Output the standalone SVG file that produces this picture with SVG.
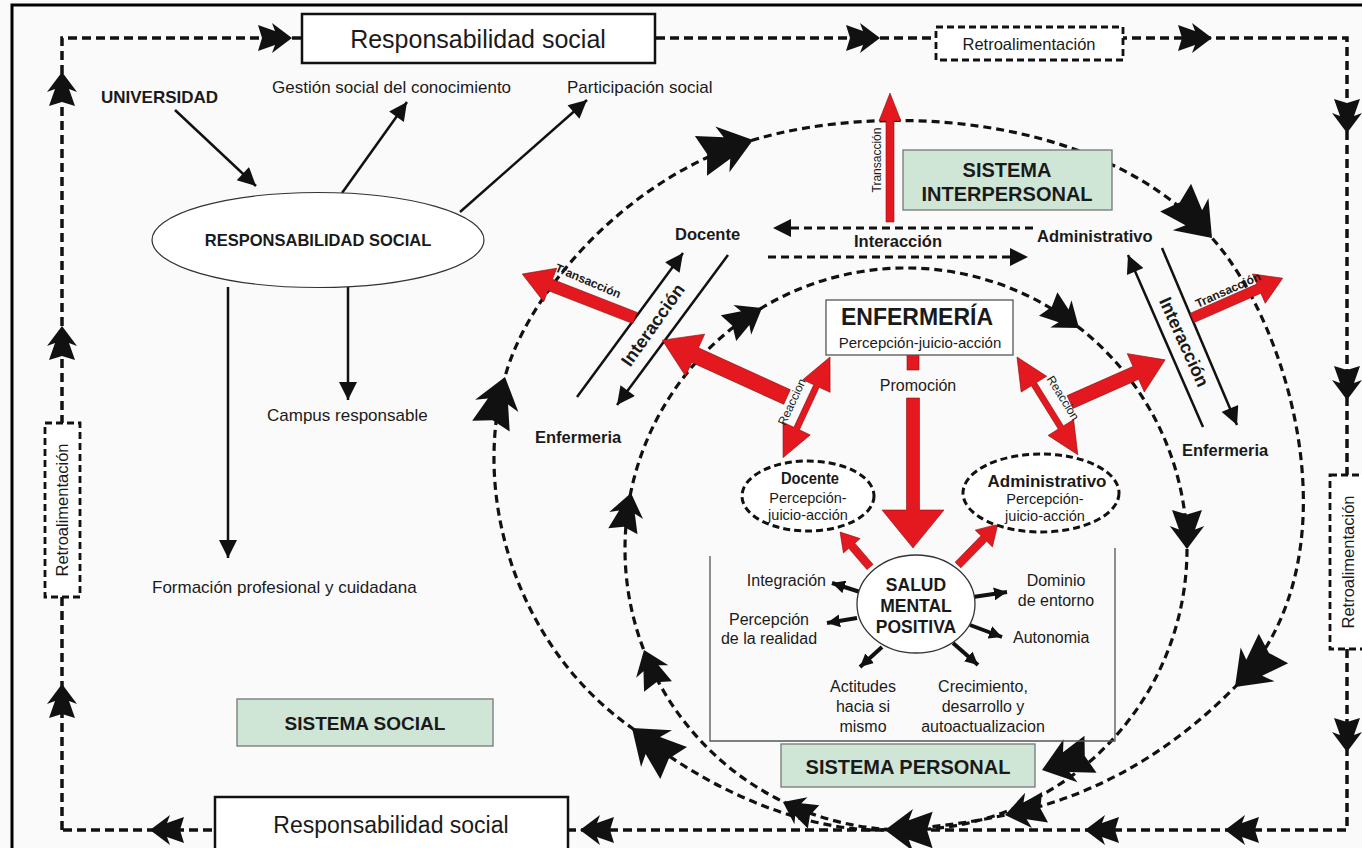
<svg xmlns="http://www.w3.org/2000/svg" width="1362" height="848" viewBox="0 0 1362 848">
<style>
text{font-family:"Liberation Sans",Arial,sans-serif;fill:#1a1a1a}
.b{font-weight:bold}
.m{text-anchor:middle}
.loop{fill:none;stroke:#111;stroke-width:3.5;stroke-dasharray:9 5}
.cv{fill:none;stroke:#111;stroke-width:3.2;stroke-dasharray:8 5}
.ln{fill:none;stroke:#111;stroke-width:2.5}
.sa{fill:none;stroke:#111;stroke-width:4}
.red{fill:#e3191f;stroke:#8a1010;stroke-width:0.6}
.green{fill:#cfe6d7;stroke:#777;stroke-width:1.3}
.wbox{fill:#fff;stroke:#111;stroke-width:2.5}
.dbox{fill:#fff;stroke:#111;stroke-width:2.8;stroke-dasharray:7 4}
</style>
<defs>
<path id="fa" d="M0,0 L-20,-15 L-17,-7 L-34,-13 L-30,0 L-34,13 L-17,7 L-20,15 Z" fill="#111"/>
<marker id="ah" viewBox="0 0 10 10" refX="10" refY="5" markerWidth="20" markerHeight="18" markerUnits="userSpaceOnUse" orient="auto"><path d="M0,0 L10,5 L0,10 Z" fill="#111"/></marker>
<marker id="ahs" viewBox="0 0 10 10" refX="10" refY="5" markerWidth="13" markerHeight="13" markerUnits="userSpaceOnUse" orient="auto"><path d="M0,0 L10,5 L0,10 Z" fill="#111"/></marker>
</defs>
<rect x="0" y="0" width="1362" height="848" fill="#fafafa"/>
<path d="M12,850 V5 H1364" fill="none" stroke="#000" stroke-width="3"/>

<g id="connectors">
<path class="loop" d="M62,830 V38 H1347 V830 Z"/>
<use href="#fa" transform="translate(292,38)"/>
<use href="#fa" transform="translate(880,38)"/>
<use href="#fa" transform="translate(1212,38)"/>
<use href="#fa" transform="translate(1347,133) rotate(90)"/>
<use href="#fa" transform="translate(1347,400) rotate(90)"/>
<use href="#fa" transform="translate(1347,752) rotate(90)"/>
<use href="#fa" transform="translate(150,830) rotate(180)"/>
<use href="#fa" transform="translate(580,830) rotate(180)"/>
<use href="#fa" transform="translate(1085,830) rotate(180)"/>
<use href="#fa" transform="translate(1225,830) rotate(180)"/>
<use href="#fa" transform="translate(62,72) rotate(-90)"/>
<use href="#fa" transform="translate(62,326) rotate(-90)"/>
<use href="#fa" transform="translate(62,684) rotate(-90)"/>

<path class="cv" d="M870,830 C790,826 700,785 632,728 C520,650 470,500 505,377 C525,300 620,180 753,140 C880,102 1100,112 1212,238 C1290,325 1360,560 1235,687 C1160,763 1080,800 1005,815 C960,825 910,830 870,830"/>
<use href="#fa" transform="translate(632,728) rotate(-140) scale(1.6)"/>
<use href="#fa" transform="translate(505,377) rotate(-74) scale(1.5)"/>
<use href="#fa" transform="translate(753,140) rotate(-17) scale(1.6)"/>
<use href="#fa" transform="translate(1212,238) rotate(48) scale(1.6)"/>
<use href="#fa" transform="translate(1235,687) rotate(135) scale(1.6)"/>
<use href="#fa" transform="translate(1005,815) rotate(169) scale(1.2)"/>
<use href="#fa" transform="translate(885,830) rotate(180) scale(1.4)"/>

<circle class="cv" cx="906" cy="549" r="281"/>
<use href="#fa" transform="translate(631,493) rotate(-78) scale(1.15)"/>
<use href="#fa" transform="translate(644,650) rotate(-111) scale(1.15)"/>
<use href="#fa" transform="translate(762,308) rotate(-31) scale(1.15)"/>
<use href="#fa" transform="translate(1079,328) rotate(38) scale(1.15)"/>
<use href="#fa" transform="translate(1187,549) rotate(90) scale(1.15)"/>
<use href="#fa" transform="translate(1042,770) rotate(162) scale(1.5)"/>
<use href="#fa" transform="translate(783,802) rotate(-154) scale(1)"/>

<line class="ln" x1="175" y1="110" x2="256" y2="186" marker-end="url(#ah)"/>
<line class="ln" x1="342" y1="193" x2="407" y2="102" marker-end="url(#ah)"/>
<line class="ln" x1="460" y1="212" x2="587" y2="100" marker-end="url(#ah)"/>
<line class="ln" x1="228" y1="287" x2="228" y2="558" marker-end="url(#ah)"/>
<line class="ln" x1="348" y1="287" x2="348" y2="400" marker-end="url(#ah)"/>

<line class="cv" x1="1033" y1="228" x2="773" y2="228" stroke-width="3" marker-end="url(#ah)"/>
<line class="cv" x1="768" y1="257" x2="1028" y2="257" stroke-width="3" marker-end="url(#ah)"/>
<line class="ln" x1="577" y1="397" x2="683" y2="253" marker-end="url(#ah)"/>
<line class="ln" x1="728" y1="255" x2="617" y2="405" marker-end="url(#ah)"/>
<line class="ln" x1="1203" y1="427" x2="1128" y2="255" marker-end="url(#ah)"/>
<line class="ln" x1="1162" y1="248" x2="1237" y2="425" marker-end="url(#ah)"/>

<path class="red" transform="translate(890,222) rotate(-90)" d="M0,-4 L101,-4 L101,-11 L129,0 L101,11 L101,4 L0,4 Z"/>
<path class="red" transform="translate(635,318) rotate(-158.7)" d="M0,-6 L91,-6 L91,-18 L121,0 L91,18 L91,6 L0,6 Z"/>
<path class="red" transform="translate(787,397) rotate(-155.5)" d="M0,-8 L101,-8 L101,-23 L137,0 L101,23 L101,8 L0,8 Z"/>
<path class="red" transform="translate(1192,318) rotate(-23.7)" d="M0,-5 L73,-5 L73,-16 L99,0 L73,16 L73,5 L0,5 Z"/>
<path class="red" transform="translate(1070,402) rotate(-23.9)" d="M0,-7 L72,-7 L72,-21 L104,0 L72,21 L72,7 L0,7 Z"/>
<rect class="red" x="907" y="355" width="12" height="15"/>
<path class="red" transform="translate(913,398) rotate(90)" d="M0,-6.5 L112,-6.5 L112,-31 L150,0 L112,31 L112,6.5 L0,6.5 Z"/>
<path class="red" transform="translate(830,357) rotate(115)" d="M0,0 L32,-15 L32,-3 L79,-3 L79,-15 L111,0 L79,15 L79,3 L32,3 L32,15 Z"/>
<path class="red" transform="translate(1017,357) rotate(58.1)" d="M0,0 L32,-15 L32,-3 L83,-3 L83,-15 L115,0 L83,15 L83,3 L32,3 L32,15 Z"/>
<path class="red" transform="translate(870,567) rotate(-130.6)" d="M0,-4 L28,-4 L28,-11 L46,0 L28,11 L28,4 L0,4 Z"/>
<path class="red" transform="translate(958,565) rotate(-45.7)" d="M0,-4 L37,-4 L37,-12 L57,0 L37,12 L37,4 L0,4 Z"/>

<line class="sa" x1="860" y1="592" x2="832" y2="583" marker-end="url(#ahs)"/>
<line class="sa" x1="857" y1="618" x2="827" y2="623" marker-end="url(#ahs)"/>
<line class="sa" x1="973" y1="597" x2="1007" y2="592" marker-end="url(#ahs)"/>
<line class="sa" x1="970" y1="625" x2="1002" y2="637" marker-end="url(#ahs)"/>
<line class="sa" x1="882" y1="647" x2="860" y2="667" marker-end="url(#ahs)"/>
<line class="sa" x1="953" y1="643" x2="978" y2="665" marker-end="url(#ahs)"/>
</g>

<g id="resp-top"><rect class="wbox" x="302" y="14" width="353" height="49"/><text class="m" x="478" y="48" font-size="25">Responsabilidad social</text></g>
<g id="retro-top"><rect class="dbox" x="936" y="27" width="187" height="33"/><text class="m" x="1029" y="50" font-size="16.5">Retroalimentación</text></g>
<g id="retro-left"><rect class="dbox" x="45" y="423" width="35" height="174"/><text class="m" font-size="16.5" transform="translate(68,510) rotate(-90)">Retroalimentación</text></g>
<g id="retro-right"><rect class="dbox" x="1330" y="475" width="36" height="174"/><text class="m" font-size="16.5" transform="translate(1354,562) rotate(-90)">Retroalimentación</text></g>
<g id="resp-bottom"><rect class="wbox" x="215" y="797" width="353" height="60"/><text class="m" x="391" y="833" font-size="23">Responsabilidad social</text></g>

<g id="universidad"><text class="b" x="101" y="103" font-size="17">UNIVERSIDAD</text></g>
<g id="gestion"><text x="272" y="93" font-size="17">Gestión social del conocimiento</text></g>
<g id="participacion"><text x="567" y="93" font-size="17">Participación social</text></g>
<g id="resp-ellipse"><ellipse cx="318" cy="240" rx="166" ry="47.5" fill="#fff" stroke="#333" stroke-width="1.2"/><text class="b m" x="318" y="246" font-size="16.5">RESPONSABILIDAD SOCIAL</text></g>
<g id="campus"><text x="267" y="421" font-size="17">Campus responsable</text></g>
<g id="formacion"><text x="152" y="593" font-size="17">Formación profesional y cuidadana</text></g>
<g id="sistema-social"><rect class="green" x="237" y="699" width="256" height="47"/><text class="b m" x="365" y="730" font-size="19">SISTEMA SOCIAL</text></g>

<g id="sistema-interpersonal"><rect class="green" x="903" y="150" width="209" height="60"/><text class="b m" x="1007" y="177" font-size="20">SISTEMA</text><text class="b m" x="1007" y="201" font-size="20">INTERPERSONAL</text></g>
<g id="docente-top"><text class="b" x="675" y="240" font-size="16.5">Docente</text></g>
<g id="administrativo-top"><text class="b" x="1037" y="242" font-size="16.5">Administrativo</text></g>
<g id="interaccion-h"><text class="b m" x="898" y="247" font-size="16.5">Interacción</text></g>
<g id="enfermeria-left"><text class="b" x="535" y="443" font-size="16.5">Enfermeria</text></g>
<g id="enfermeria-right"><text class="b" x="1182" y="456" font-size="16.5">Enfermeria</text></g>
<g id="labels-rot">
<text class="b m" font-size="18" transform="translate(653,325) rotate(-54.8)" dy="6">Interacción</text>
<text class="b m" font-size="18" transform="translate(1184,342) rotate(65.7)" dy="6">Interacción</text>
<text class="m" font-size="12" transform="translate(881,160) rotate(-90)">Transacción</text>
<text class="b m" font-size="12" transform="translate(588,281) rotate(23)" dy="4">Transacción</text>
<text class="b m" font-size="12" transform="translate(1228,290) rotate(-24)" dy="4">Transacción</text>
<text class="m" font-size="12" transform="translate(792,402) rotate(-65)" dy="4">Reaccion</text>
<text class="m" font-size="12" transform="translate(1063,398) rotate(58)" dy="4">Reaccion</text>
</g>

<g id="enfermeria"><rect x="826" y="300" width="187" height="55" fill="#fff" stroke="#555" stroke-width="1.3"/><text class="b m" x="917" y="325" font-size="23">ENFERMERÍA</text><text class="m" x="920" y="348" font-size="15">Percepción-juicio-acción</text></g>
<g id="promocion"><text class="m" x="918" y="391" font-size="16">Promoción</text></g>

<g id="docente"><ellipse cx="808" cy="496" rx="66" ry="35" fill="#fff" stroke="#111" stroke-width="3" stroke-dasharray="7 4"/><text class="b m" x="810" y="484" font-size="17" textLength="58" lengthAdjust="spacingAndGlyphs">Docente</text><text class="m" x="808" y="503" font-size="14.5">Percepción-</text><text class="m" x="808" y="520" font-size="14.5">juicio-acción</text></g>
<g id="administrativo"><ellipse cx="1041" cy="493" rx="78" ry="39" fill="#fff" stroke="#111" stroke-width="3" stroke-dasharray="7 4"/><text class="b m" x="1047" y="487" font-size="17">Administrativo</text><text class="m" x="1045" y="504" font-size="14.5">Percepción-</text><text class="m" x="1045" y="521" font-size="14.5">juicio-acción</text></g>

<g id="salud-frame"><path d="M710,556 V741 H1115 V548" fill="none" stroke="#555" stroke-width="1.3"/></g>
<g id="salud"><ellipse cx="916" cy="604" rx="59" ry="49" fill="#fff" stroke="#333" stroke-width="1.3"/><text class="b m" x="916" y="591" font-size="17.5">SALUD</text><text class="b m" x="916" y="612" font-size="17.5">MENTAL</text><text class="b m" x="916" y="633" font-size="17.5">POSITIVA</text></g>
<g id="integracion"><text x="826" y="586" font-size="16" text-anchor="end">Integración</text></g>
<g id="percepcion"><text class="m" x="769" y="625" font-size="16">Percepción</text><text class="m" x="769" y="644" font-size="16">de la realidad</text></g>
<g id="dominio"><text class="m" x="1056" y="586" font-size="16">Dominio</text><text class="m" x="1056" y="606" font-size="16">de entorno</text></g>
<g id="autonomia"><text x="1013" y="643" font-size="16">Autonomia</text></g>
<g id="actitudes"><text class="m" x="863" y="692" font-size="16">Actitudes</text><text class="m" x="863" y="712" font-size="16">hacia si</text><text class="m" x="863" y="732" font-size="16">mismo</text></g>
<g id="crecimiento"><text class="m" x="983" y="692" font-size="16">Crecimiento,</text><text class="m" x="983" y="712" font-size="16">desarrollo y</text><text class="m" x="983" y="732" font-size="16">autoactualizacion</text></g>
<g id="sistema-personal"><rect class="green" x="781" y="744" width="254" height="43"/><text class="b m" x="908" y="774" font-size="20">SISTEMA PERSONAL</text></g>
</svg>
